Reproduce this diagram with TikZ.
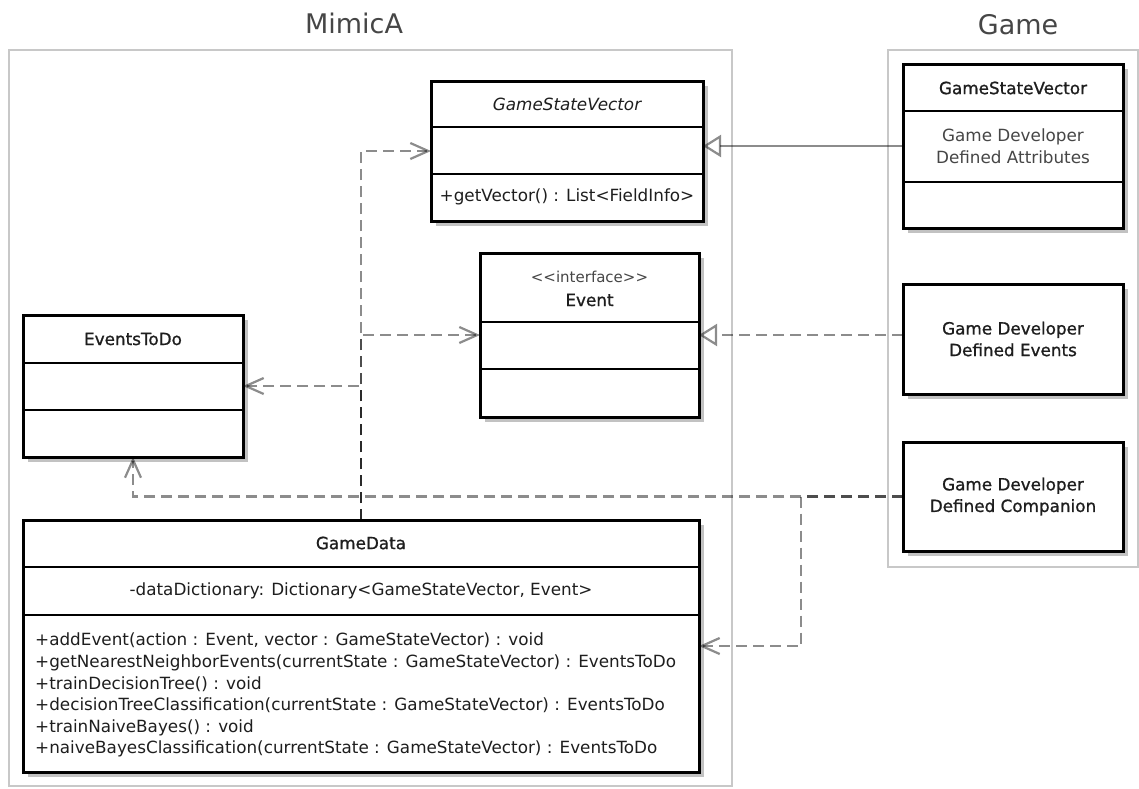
\documentclass[tikz,border=0pt]{standalone}
\usepackage{fontspec}
\setmainfont{DejaVu Sans}
\usetikzlibrary{arrows.meta,shadows,positioning}
\definecolor{frame}{RGB}{200,200,200}
\definecolor{ink}{RGB}{30,30,30}
\definecolor{titleink}{RGB}{70,70,70}
\newcommand{\umlfont}{\fontsize{16.8}{21.6}\selectfont}
\newcommand{\umlhead}{\umlfont\addfontfeature{FakeBold=1}}
\tikzset{
	classbox/.style={draw=black,fill=white,line width=3pt,inner sep=0pt,outer sep=0pt,
		drop shadow={shadow xshift=5pt,shadow yshift=-5pt,fill=black!40,opacity=0.6}},
	divider/.style={draw=black,line width=2.6pt},
	link/.style={draw=black,draw opacity=0.45,line width=2.2pt}, % overlapping links come out darker
}
\begin{document}
\begin{tikzpicture}[x=1pt,y=-1pt,
		package/.style={draw=frame,line width=2pt,inner sep=0pt,outer sep=0pt},
		pkgname/.style={font=\fontsize{27}{30}\selectfont,text=titleink,inner sep=0pt},
		umltext/.style={font=\umlfont,text=ink,inner sep=0pt,align=center},
		umlhead/.style={umltext,font=\umlhead},
		depend/.style={link,dash pattern=on 11pt off 6pt,-{Straight Barb[length=18pt,width=16pt]}},
		realize/.style={link,dash pattern=on 11pt off 6pt,-{Triangle[open,length=18pt,width=22pt]}},
		inherit/.style={link,-{Triangle[open,length=18pt,width=22pt]}}]
	\useasboundingbox (0,0) rectangle (1139,788);
	% packages
	\node[package,minimum width=723pt,minimum height=736pt] (mimica) at (370.5,418) {};
	\node[package,minimum width=250pt,minimum height=517pt] (game) at (1013,308.5) {};
	\node[pkgname] (mimicaName) at (354,23) {MimicA};
	\node[pkgname] (gameName) at (1018,25) {Game};
	% MimicA classes
	\node[classbox,minimum width=272pt,minimum height=140pt] (gsvAbs) at (567,151) {};
	\draw[divider] (431,127) -- (703,127);
	\draw[divider] (431,174) -- (703,174);
	\node[umltext,font=\umlfont\itshape] (gsvAbsName) at (567,104) {GameStateVector};
	\node[umltext] (gsvAbsOps) at (567,197) {+getVector() : List<FieldInfo>};

	\node[classbox,minimum width=219pt,minimum height=164pt] (event) at (589.5,335) {};
	\draw[divider] (480,322) -- (699,322);
	\draw[divider] (480,369) -- (699,369);
	\node[umltext,font=\fontsize{15}{18}\selectfont,text=titleink] (eventStereo) at (589.5,277) {<{}<interface>{}>};
	\node[umlhead] (eventName) at (589.5,300) {Event};

	\node[classbox,minimum width=220pt,minimum height=142pt] (eventsToDo) at (133,386) {};
	\draw[divider] (23,363) -- (243,363);
	\draw[divider] (23,410) -- (243,410);
	\node[umlhead] (eventsToDoName) at (133,339) {EventsToDo};

	\node[classbox,minimum width=676pt,minimum height=252pt] (gameData) at (361,646) {};
	\draw[divider] (23,567) -- (699,567);
	\draw[divider] (23,615) -- (699,615);
	\node[umlhead] (gameDataName) at (361,543) {GameData};
	\node[umltext] (gameDataAttr) at (361,591) {-dataDictionary: Dictionary<GameStateVector, Event>};
	\node[umltext,align=left,anchor=north west] (gameDataOps) at (35,633) {%
		+addEvent(action : Event, vector : GameStateVector) : void\\
		+getNearestNeighborEvents(currentState : GameStateVector) : EventsToDo\\
		+trainDecisionTree() : void\\
		+decisionTreeClassification(currentState : GameStateVector) : EventsToDo\\
		+trainNaiveBayes() : void\\
		+naiveBayesClassification(currentState : GameStateVector) : EventsToDo};
	% Game classes
	\node[classbox,minimum width=220pt,minimum height=164pt] (gsvGame) at (1013,146) {};
	\draw[divider] (903,111) -- (1123,111);
	\draw[divider] (903,182) -- (1123,182);
	\node[umlhead] (gsvGameName) at (1013,88) {GameStateVector};
	\node[umltext,text=titleink] (gsvGameAttr) at (1013,146) {Game Developer\\Defined Attributes};

	\node[classbox,minimum width=220pt,minimum height=110pt] (devEvents) at (1013,339) {};
	\node[umlhead] (devEventsName) at (1013,339) {Game Developer\\Defined Events};

	\node[classbox,minimum width=220pt,minimum height=109pt] (devCompanion) at (1013,496.5) {};
	\node[umlhead] (devCompanionName) at (1013,496.5) {Game Developer\\Defined Companion};
	% links
	\draw[inherit] (gsvGame.west) -- (gsvGame.west -| gsvAbs.east);
	\draw[realize] (devEvents.west |- event.east) -- (event.east);
	\draw[depend] (gameData.north) |- (gsvAbs.west);
	\draw[depend] (gameData.north) |- (event.west);
	\draw[depend] (gameData.north) |- (eventsToDo.east);
	\draw[depend] (devCompanion.west) -| (eventsToDo.south);
	\coordinate (split) at (801,496.5);
	\draw[depend] (devCompanion.west) -- (split) |- (gameData.east);
\end{tikzpicture}
\end{document}
